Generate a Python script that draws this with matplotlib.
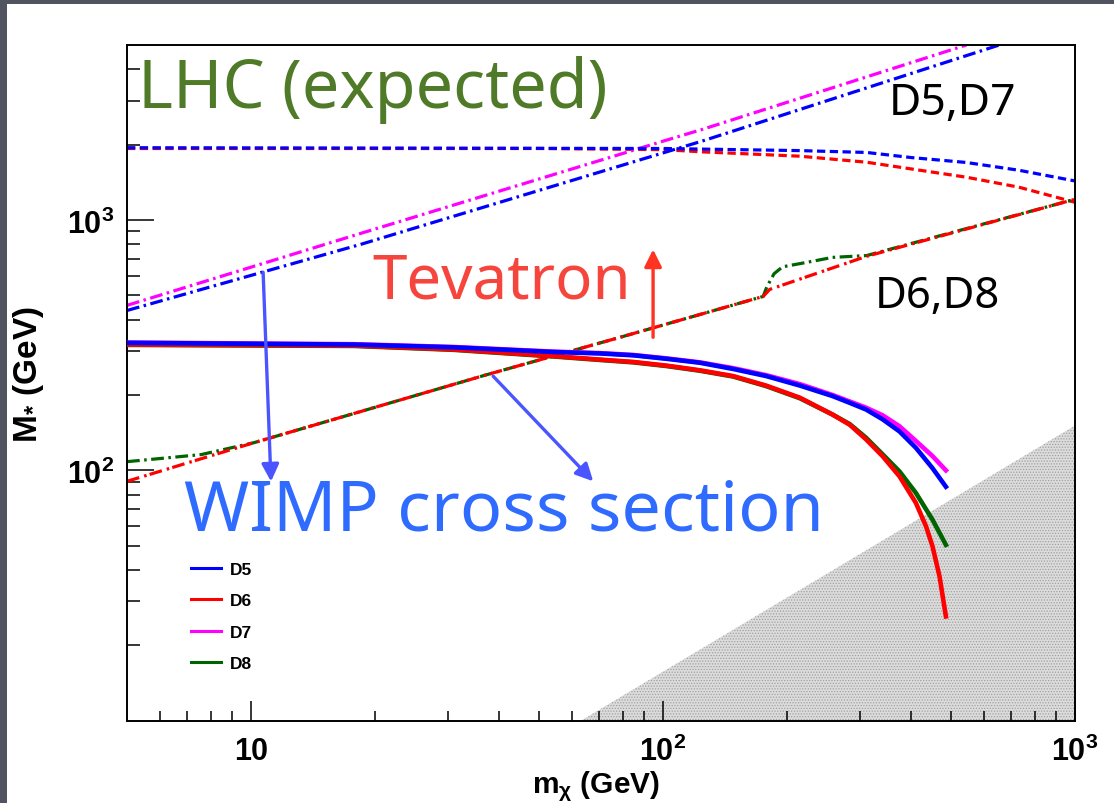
import matplotlib
matplotlib.use("Agg")
import matplotlib.pyplot as plt
from matplotlib.patches import Rectangle

plt.rcParams['mathtext.fontset'] = 'custom'
plt.rcParams['mathtext.rm'] = 'Liberation Sans:bold'
plt.rcParams['mathtext.it'] = 'Liberation Sans:bold'
plt.rcParams['mathtext.bf'] = 'Liberation Sans:bold'
plt.rcParams['hatch.linewidth'] = 0.6

# --- data (m_chi in GeV, M_* in GeV) ---
# WIMP direct-detection translated limits (solid)
d5_m = [5, 17.8, 31, 54.2, 70.3, 84.7, 102, 122.9, 148, 178, 215, 258, 284, 311, 341, 375, 411, 451, 486]
d5_M = [323, 318, 310, 297, 293, 288, 279, 269, 254, 238, 218, 198, 186, 175, 160, 143, 123, 102, 86]
d7_m = [5, 17.8, 31, 54.2, 70.3, 84.7, 102, 122.9, 148, 178, 215, 258, 311, 341, 375, 411, 451, 486]
d7_M = [324, 319, 311, 298, 294, 289, 280, 270, 256, 240, 221, 200, 178, 166, 150, 131, 114, 100]
d6_m = [5, 17.8, 31, 54.2, 70.3, 84.7, 102, 122.9, 148, 178, 215, 258, 284, 311, 341, 375,
        411, 435, 451, 469, 486]
d6_M = [318, 315, 304, 286, 277, 271, 262, 251, 238, 218, 195, 167, 152, 133, 114, 94.6,
        74.1, 59.7, 49.7, 37.7, 26.1]
d8_m = [5, 17.8, 31, 54.2, 70.3, 84.7, 102, 122.9, 148, 178, 215, 258, 284, 311, 341, 375, 411, 451, 486]
d8_M = [317, 314, 303, 285, 276, 270, 261, 250, 237, 217, 194, 167, 153, 135, 116, 99, 81.2, 63.5, 50.4]

# LHC expected (dashed = D5/D6, rising dash-dot = D7/D5)
lhc_d5_m = [5, 100, 215, 312, 400, 545, 731, 1000]
lhc_d5_M = [1944, 1930, 1893, 1861, 1776, 1697, 1580, 1432]
lhc_d6_m = [5, 50, 100, 125, 215, 312, 545, 731, 1000]
lhc_d6_M = [1930, 1930, 1910, 1871, 1798, 1701, 1482, 1352, 1177]
lhc_d7_m = [5, 18.5, 100, 125, 545]
lhc_d7_M = [456, 885, 2064, 2305, 5000]
lhc_d5b_m = [5, 18.5, 125, 655]
lhc_d5b_M = [435, 800, 2071, 5000]

# Tevatron (dash-dot)
tev_d6_m = [5, 10.17, 37.5, 78.7, 175, 181.5, 312, 1000]
tev_d6_M = [90.4, 129, 241.5, 340, 495, 528, 716, 1210]
tev_d8_m = [5, 7.57, 10.17, 37.5, 78.7, 175, 178.6, 186, 195, 223, 258, 312, 1000]
tev_d8_M = [108.3, 115.6, 129, 241.5, 340, 495, 540, 610, 650, 677, 709, 721, 1210]

# excluded (hatched) region
excl_m = [63.2, 1000]
excl_M = [10, 151]

BLUE, RED, MAG, GRN = '#0000ff', '#ff0000', '#ff00ff', '#006400'

fig = plt.figure(figsize=(11.14, 8.04), dpi=100)
fig.patch.set_facecolor('#4f545e')
fig.add_artist(Rectangle((7 / 1114, 0), 1, 1 - 5 / 804, transform=fig.transFigure,
                         facecolor='white', edgecolor='none', zorder=0))

ax = fig.add_axes([127 / 1114, 1 - 721.7 / 804, 948 / 1114, 675.7 / 804])
ax.set_xscale('log')
ax.set_yscale('log')
ax.set_xlim(5, 1000)
ax.set_ylim(10, 5000)

ax.fill_between(excl_m, [10, 10], excl_M, facecolor='#dcdcdc', edgecolor='#a0a0a0',
                hatch='......', linewidth=0, zorder=1)

dash = (2.6, 1.4)
dashdot = (4.0, 1.4, 0.8, 1.4)
lw_d = 2.3
ax.plot(lhc_d6_m, lhc_d6_M, color=RED, lw=lw_d, dashes=dash, zorder=2)
ax.plot(lhc_d5_m, lhc_d5_M, color=BLUE, lw=lw_d, dashes=dash, zorder=2.1)
ax.plot(lhc_d7_m, lhc_d7_M, color=MAG, lw=lw_d, dashes=dashdot, zorder=2)
ax.plot(lhc_d5b_m, lhc_d5b_M, color=BLUE, lw=lw_d, dashes=dashdot, zorder=2)
ax.plot(tev_d8_m, tev_d8_M, color=GRN, lw=lw_d, dashes=dashdot, zorder=2)
ax.plot(tev_d6_m, tev_d6_M, color=RED, lw=lw_d, dashes=(4.0, 1.6, 0.8, 1.0), zorder=2.1)

lw_s = 3.3
ax.plot(d7_m, d7_M, color=MAG, lw=lw_s, label='D7', zorder=3)
ax.plot(d8_m, d8_M, color=GRN, lw=lw_s, label='D8', zorder=3)
ax.plot(d6_m, d6_M, color=RED, lw=lw_s, label='D6', zorder=3.1)
ax.plot(d5_m, d5_M, color=BLUE, lw=lw_s, label='D5', zorder=3.2)

# legend in D5..D8 order
h, l = ax.get_legend_handles_labels()
order = [l.index(k) for k in ['D5', 'D6', 'D7', 'D8']]
leg = ax.legend([h[i] for i in order], [l[i] for i in order], loc='upper left',
                bbox_to_anchor=(184 / 1114, 1 - 556 / 804), bbox_transform=fig.transFigure,
                frameon=False, prop={'family': 'Liberation Sans', 'weight': 'bold', 'size': 12.5},
                handlelength=1.75, handletextpad=0.5, labelspacing=0.93, borderaxespad=0)
for ln in leg.get_lines():
    ln.set_linewidth(2.2)

# annotations
hand = 'Noto Sans'
ax.text(5.33, 2824, 'LHC (expected)', color='#4f7a28', fontsize=48, family=hand, ha='left', va='baseline')
ax.text(354, 2650, 'D5,D7', color='black', fontsize=32, family=hand, ha='left', va='baseline')
ax.text(19.7, 491, 'Tevatron', color='#f5453c', fontsize=44.5, family=hand, ha='left', va='baseline')
ax.text(326, 448, 'D6,D8', color='black', fontsize=31.5, family=hand, ha='left', va='baseline')
ax.text(6.88, 57.9, 'WIMP cross section', color='#2f6bff', fontsize=50.5, family=hand, ha='left', va='baseline')

ax.annotate('', xy=(94.6, 763), xytext=(94.6, 340),
            arrowprops=dict(arrowstyle='-|>', color='#ff3322', lw=2.4, mutation_scale=26, shrinkA=0, shrinkB=0), zorder=5)
ax.annotate('', xy=(11.18, 90.2), xytext=(10.7, 618),
            arrowprops=dict(arrowstyle='-|>', color='#4a55ff', lw=2.4, mutation_scale=26, shrinkA=0, shrinkB=0), zorder=5)
ax.annotate('', xy=(67.7, 90.4), xytext=(38.7, 237.7),
            arrowprops=dict(arrowstyle='-|>', color='#4a55ff', lw=2.4, mutation_scale=26, shrinkA=0, shrinkB=0), zorder=5)

# axes / ticks, ROOT style
ax.set_xticks([10, 100, 1000])
ax.set_xticklabels(['10', r'$\mathbf{10^{2}}$', r'$\mathbf{10^{3}}$'], fontweight='bold', family='Liberation Sans')
ax.set_xticks([6, 7, 8, 9, 20, 30, 40, 50, 60, 70, 80, 90,
               200, 300, 400, 500, 600, 700, 800, 900], minor=True)
ax.set_xticklabels([], minor=True)
ax.set_yticks([100, 1000])
ax.set_yticklabels([r'$\mathbf{10^{2}}$', r'$\mathbf{10^{3}}$'])
ax.set_yticks([20, 30, 40, 50, 60, 70, 80, 90, 200, 300, 400, 500, 600, 700, 800, 900,
               2000, 3000, 4000], minor=True)
ax.set_yticklabels([], minor=True)
ax.tick_params(axis='x', which='major', direction='in', length=14.4, width=1.1, pad=11, labelsize=22)
ax.tick_params(axis='x', which='minor', direction='in', length=7.2, width=1.1)
ax.tick_params(axis='y', which='major', direction='in', length=19.5, width=1.1, pad=9, labelsize=22)
ax.tick_params(axis='y', which='minor', direction='in', length=9.5, width=1.1)
for s in ax.spines.values():
    s.set_linewidth(1.4)

ax.set_xlabel(r'm$_{\chi}$ (GeV)', fontsize=21.5, fontweight='bold', family='Liberation Sans')
ax.xaxis.set_label_coords((596 - 127) / 948, (721.7 - 769) / 675.7)
ax.set_ylabel(r'M$_{*}$ (GeV)', fontsize=24, fontweight='bold', family='Liberation Sans')
ax.yaxis.set_label_coords((46 - 127) / 948, (721.7 - 375) / 675.7)

fig.savefig('out.png', dpi=100, facecolor=fig.get_facecolor())
